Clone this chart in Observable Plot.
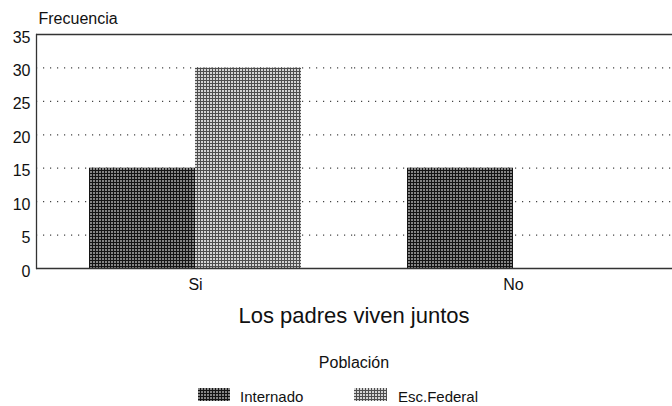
<!DOCTYPE html>
<html>
<head>
<meta charset="utf-8">
<script src="https://cdn.jsdelivr.net/npm/d3@7"></script>
<script src="https://cdn.jsdelivr.net/npm/@observablehq/plot@0.6"></script>
<style>
  body { margin: 0; background: #fff; font-family: "Liberation Sans", Arial, Helvetica, sans-serif; color: #111; }
  #wrap { position: relative; width: 672px; height: 406px; }
  .t { position: absolute; left: 36px; width: 636px; text-align: center; white-space: nowrap; }
  .sw { position: absolute; }
  .lt { position: absolute; font-size: 15px; line-height: 14px; white-space: nowrap; }
</style>
</head>
<body>
<svg width="0" height="0" style="position:absolute">
  <defs>
    <pattern id="pInternado" width="3" height="3" patternUnits="userSpaceOnUse">
      <rect width="3" height="3" fill="#141414"/>
      <rect x="0" y="0" width="2" height="2" fill="#858585"/>
    </pattern>
    <pattern id="pFederal" width="3" height="3" patternUnits="userSpaceOnUse">
      <rect width="3" height="3" fill="#4e4e4e"/>
      <rect x="0" y="0" width="2" height="2" fill="#d4d4d4"/>
    </pattern>
  </defs>
</svg>
<div id="wrap">
  <div id="chart"></div>
  <div class="t" style="top:305px;font-size:22px;line-height:22px;">Los padres viven juntos</div>
  <div class="t" style="top:355px;font-size:16px;line-height:16px;">Población</div>
  <svg class="sw" style="left:198px;top:388px;" width="32" height="13"><rect width="32" height="13" fill="url(#pInternado)"/></svg>
  <div class="lt" style="left:240px;top:390px;">Internado</div>
  <svg class="sw" style="left:354px;top:388px;" width="33" height="13"><rect width="33" height="13" fill="url(#pFederal)"/></svg>
  <div class="lt" style="left:398px;top:390px;">Esc.Federal</div>
</div>
<script>
const categories = ["Si", "No"];
const series = ["Internado", "Esc.Federal"];
const internado = [15, 15];
const escFederal = [30, 0];
const yTicks = [0, 5, 10, 15, 20, 25, 30, 35];
const gridTicks = [5, 10, 15, 20, 25, 30];
const patterns = {"Internado": "url(#pInternado)", "Esc.Federal": "url(#pFederal)"};

const data = [];
categories.forEach((c, i) => {
  data.push({grupo: c, serie: series[0], valor: internado[i]});
  data.push({grupo: c, serie: series[1], valor: escFederal[i]});
});

const chart = Plot.plot({
  width: 672,
  height: 295,
  marginTop: 34,
  marginBottom: 27,
  marginLeft: 36,
  marginRight: 0,
  style: {fontFamily: "'Liberation Sans', Arial, Helvetica, sans-serif", fontSize: "16px", color: "#111", background: "transparent"},
  fx: {domain: categories, padding: 0, label: null, tickSize: 0, tickPadding: 10},
  x: {domain: series, paddingInner: 0, paddingOuter: 0.486, axis: null},
  y: {domain: [0, 35], axis: null},
  marks: [
    Plot.axisY({ticks: yTicks, tickSize: 0, tickPadding: 6, dy: 3, label: null, fontSize: 16}),
    Plot.ruleY(gridTicks, {stroke: "#444", strokeWidth: 1.2, strokeDasharray: "1.2,5.8"}),
    Plot.ruleY([35], {stroke: "#333", strokeWidth: 1.3}),
    Plot.barY(data.filter(d => d.serie === series[0]), {fx: "grupo", x: "serie", y: "valor", fill: patterns["Internado"], inset: 0}),
    Plot.barY(data.filter(d => d.serie === series[1]), {fx: "grupo", x: "serie", y: "valor", fill: patterns["Esc.Federal"], inset: 0}),
    Plot.ruleY([0], {stroke: "#333", strokeWidth: 1.3}),
    Plot.frame({anchor: "left", facet: "super", stroke: "#333", strokeWidth: 1.3}),
    Plot.text(["Frecuencia"], {frameAnchor: "top-left", facet: "super", dy: -11, dx: 2, lineAnchor: "bottom", textAnchor: "start", fontSize: 16})
  ]
});
document.getElementById("chart").appendChild(chart);
</script>
</body>
</html>
